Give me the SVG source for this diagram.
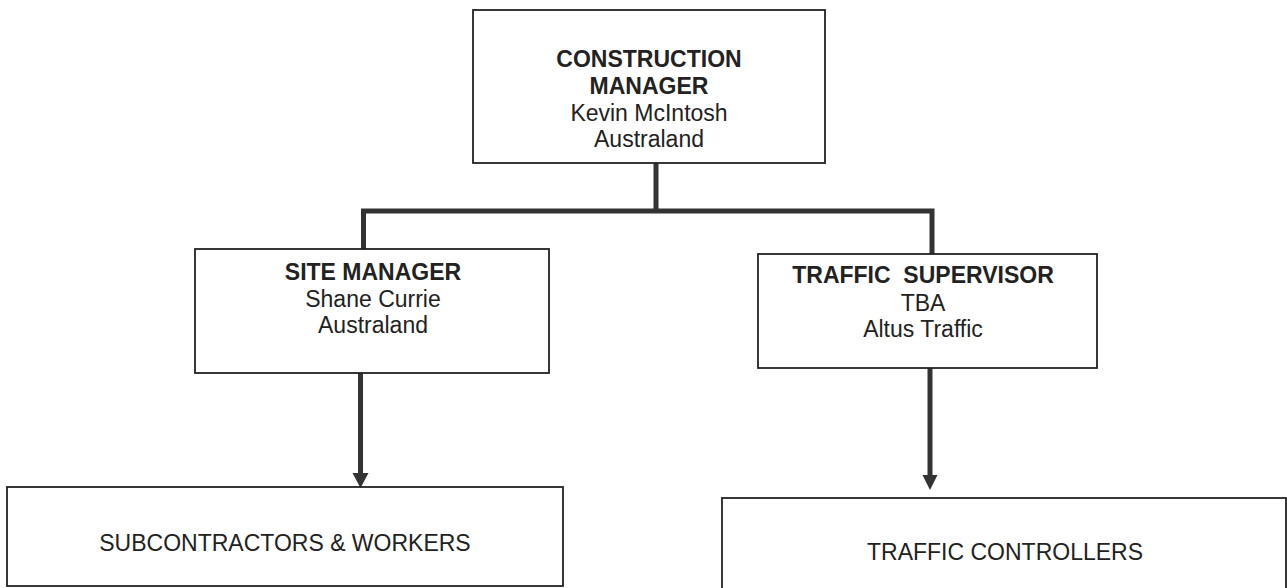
<svg xmlns="http://www.w3.org/2000/svg" width="1287" height="588" viewBox="0 0 1287 588">
<style>
.box{fill:#fff;stroke:#222;stroke-width:1.8}
.t{font-family:"Liberation Sans",Arial,sans-serif;font-size:23px;fill:#222;text-anchor:middle}
.b{font-weight:bold}
.c{fill:none;stroke:#333;stroke-width:5}
</style>
<defs>
<marker id="ah" markerUnits="userSpaceOnUse" markerWidth="16" markerHeight="16" viewBox="0 0 16 16" refX="8" refY="16" orient="auto-start-reverse">
<path d="M0,0 L16,0 L8,16 Z" fill="#333"/>
</marker>
</defs>
<rect width="1287" height="588" fill="#fff"/>
<g id="connectors">
<path class="c" d="M656,163 V211"/>
<path class="c" d="M363.5,249 V211 H932 V254"/>
<path class="c" d="M360.5,372 V474"/>
<path d="M352.5,473 L368.5,473 L360.5,488 Z" fill="#333"/>
<path class="c" d="M930,367 V476"/>
<path d="M922.5,475 L937.5,475 L930,490 Z" fill="#333"/>
</g>
<g id="construction-manager">
<rect class="box" x="473" y="10" width="352" height="153"/>
<text class="t b" x="649" y="67">CONSTRUCTION</text>
<text class="t b" x="649" y="94">MANAGER</text>
<text class="t" x="649" y="121">Kevin McIntosh</text>
<text class="t" x="649" y="147">Australand</text>
</g>
<g id="site-manager">
<rect class="box" x="195" y="249" width="354" height="124"/>
<text class="t b" x="373" y="280">SITE MANAGER</text>
<text class="t" x="373" y="307">Shane Currie</text>
<text class="t" x="373" y="333">Australand</text>
</g>
<g id="traffic-supervisor">
<rect class="box" x="758" y="254" width="339" height="114"/>
<text class="t b" x="923" y="283" xml:space="preserve">TRAFFIC  SUPERVISOR</text>
<text class="t" x="923" y="311">TBA</text>
<text class="t" x="923" y="337">Altus Traffic</text>
</g>
<g id="subcontractors">
<rect class="box" x="7" y="487" width="556" height="99"/>
<text class="t" x="285" y="551">SUBCONTRACTORS &amp; WORKERS</text>
</g>
<g id="traffic-controllers">
<rect class="box" x="722" y="498" width="564" height="100"/>
<text class="t" x="1005" y="560">TRAFFIC CONTROLLERS</text>
</g>
</svg>
